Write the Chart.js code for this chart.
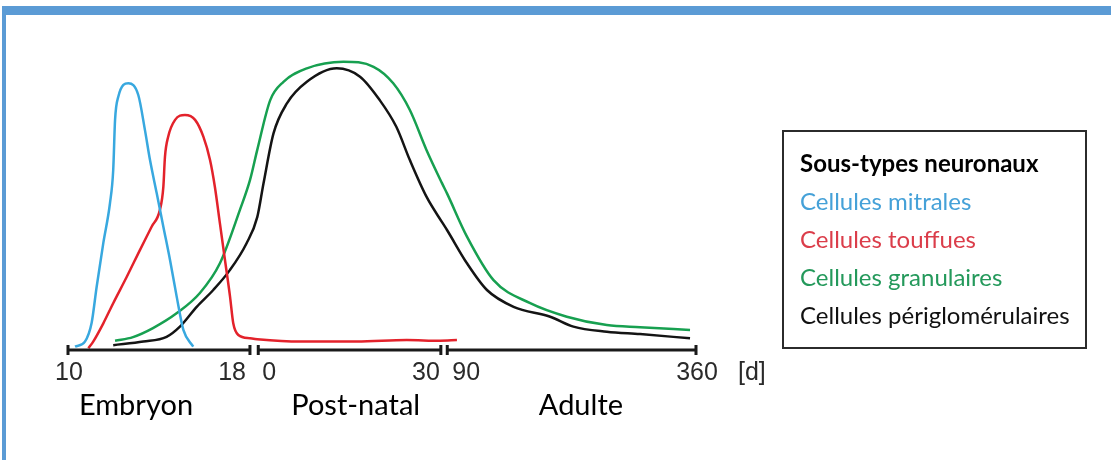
<!DOCTYPE html>
<html>
<head>
<meta charset="utf-8">
<script src="https://cdn.jsdelivr.net/npm/chart.js@4"></script>
<style>
  html, body { margin: 0; padding: 0; background: #fff; }
  #wrap { position: relative; width: 1111px; height: 460px; overflow: hidden; }
  #frame { position: absolute; left: 2px; top: 6px; right: 0; bottom: 0;
           border-top: 9px solid #5b9bd5; border-left: 4px solid #5b9bd5; }
  canvas { position: absolute; left: 0; top: 0; }
</style>
</head>
<body>
<div id="wrap">
  <div id="frame"></div>
  <canvas id="myChart" width="1111" height="460"></canvas>
</div>
<script>
// time in days relative to birth (embryonic day E = t + 19)
var tickDays   = [-9, -1, 0, 30, 90, 360];
var tickLabels = ['10', '18', '0', '30', '90', '360'];
var breakAt    = [0, 29.2, 30.2, 59.5, 60.2, 100];   // where each tick day sits on the broken axis
var periods     = ['Embryon', 'Post-natal', 'Adulte'];
var periodStart = [-9, 0, 90];
var periodEnd   = [-1, 30, 360];
var periodLabelAt = [-6, 16, 235];

var mitralDays = [-8.65, -8.22, -7.93, -7.71, -7.42, -7.13, -6.99, -6.91, -6.77, -6.33, -5.9, -5.61, -5.39, -5.1, -4.81, -4.52, -4.23, -3.94, -3.51];
var mitralVals = [1.1, 2.8, 9, 21.1, 35.7, 49, 60, 76.7, 84.4, 88.9, 85, 73.3, 63.3, 52.3, 41.1, 30, 17.8, 6.7, 1.1];

var tuftedDays = [-8.07, -7.86, -7.42, -6.99, -6.4, -5.83, -5.32, -4.96, -4.81, -4.74, -4.6, -4.3, -3.87, -3.43, -3.07, -2.78, -2.57, -2.35, -2.13, -1.91, -1.77, -1.55, -1.04, 0, 7, 16.2, 24.3, 29.7, 101.5];
var tuftedVals = [0.6, 2.8, 8.9, 15.6, 24.4, 33.3, 41.1, 46.7, 54.4, 64.4, 71.1, 76.7, 78.3, 76.7, 71.1, 63.3, 54.4, 42.2, 30, 17.8, 8.9, 5, 3.9, 3.6, 2.8, 2.8, 3.3, 3.1, 3.3];

var granuleDays = [-6.91, -6.13, -5.26, -4.22, -3.22, -2.35, -1.48, -1.04, 0, 2.11, 4.26, 8.06, 14, 18.9, 22.1, 24.8, 27.5, 30, 90.8, 112.3, 140.9, 180.4, 219.8, 262.9, 298.7, 352.5];
var granuleVals = [3.1, 4.3, 7.3, 12.3, 19, 28.9, 46.7, 56.7, 66.7, 83.3, 89.4, 93.9, 96.1, 94.4, 88.9, 80, 66.7, 55.7, 52.2, 37.8, 23.3, 15.6, 11.1, 8.3, 7.6, 6.7];

var perigDays = [-6.99, -5.68, -4.67, -4.09, -3.36, -2.64, -1.91, -1.19, 0, 1.02, 2.64, 4.82, 8.06, 12.92, 16.7, 19.9, 22.6, 24.8, 27.5, 30, 90.8, 112.3, 133.8, 162.5, 201.9, 226.9, 262.9, 298.7, 352.5];
var perigVals = [1.6, 2.8, 4.4, 7.8, 14.4, 20, 26.7, 35.6, 44.3, 55.6, 72.2, 82.2, 89.4, 93.9, 91.1, 83.3, 74.4, 63.3, 51.1, 42.7, 40, 28.9, 20, 14.4, 11.1, 7.8, 6.1, 5.3, 3.9];

// piecewise mapping of a day onto the broken axis
function axisPos(t) {
  for (var i = 1; i < tickDays.length; i++) {
    if (t <= tickDays[i] || i == tickDays.length - 1) {
      var f = (t - tickDays[i - 1]) / (tickDays[i] - tickDays[i - 1]);
      return breakAt[i - 1] + f * (breakAt[i] - breakAt[i - 1]);
    }
  }
}

function toPoints(days, vals) {
  return days.map(function(d, i) { return { x: axisPos(d), y: vals[i] }; });
}

var series = [
  { label: 'Cellules mitrales', days: mitralDays, vals: mitralVals, color: '#38a8df', text: '#45a1d8' },
  { label: 'Cellules touffues', days: tuftedDays, vals: tuftedVals, color: '#e3222b', text: '#db3d4a' },
  { label: 'Cellules granulaires', days: granuleDays, vals: granuleVals, color: '#17a050', text: '#24995b' },
  { label: 'Cellules périglomérulaires', days: perigDays, vals: perigVals, color: '#141414', text: '#111111' }
];

var brokenAxis = {
  id: 'brokenAxis',
  afterDraw: function(chart) {
    var ctx = chart.ctx;
    var xs = chart.scales.x;
    var base = chart.chartArea.bottom;
    function px(t) { return xs.getPixelForValue(axisPos(t)); }

    ctx.save();
    ctx.strokeStyle = '#1a1a1a';
    ctx.lineWidth = 3;
    for (var i = 0; i < periods.length; i++) {
      var a = px(periodStart[i]) + 1, b = px(periodEnd[i]) - 1;
      ctx.beginPath();
      ctx.moveTo(a, base); ctx.lineTo(b, base);
      ctx.moveTo(a, base - 5); ctx.lineTo(a, base + 5);
      ctx.moveTo(b, base - 5); ctx.lineTo(b, base + 5);
      ctx.stroke();
    }

    var align = ['center', 'right', 'left', 'right', 'left', 'center'];
    var nudge = [2, -5, 5, -2, 6, 0];
    ctx.fillStyle = '#2a2a2a';
    ctx.font = '25px "Liberation Sans", Arial, sans-serif';
    ctx.textBaseline = 'alphabetic';
    for (var k = 0; k < tickDays.length; k++) {
      ctx.textAlign = align[k];
      ctx.fillText(tickLabels[k], px(tickDays[k]) + nudge[k], base + 30);
    }
    ctx.textAlign = 'left';
    ctx.fillText('[d]', px(360) + 41, base + 30);

    ctx.fillStyle = '#000';
    ctx.font = '29px Lato, "Open Sans", sans-serif';
    ctx.textAlign = 'center';
    for (var p = 0; p < periods.length; p++) {
      ctx.fillText(periods[p], px(periodLabelAt[p]), base + 65);
    }

    // legend box
    ctx.strokeStyle = '#2b2b2b';
    ctx.lineWidth = 2;
    ctx.strokeRect(783, 131, 303, 217);
    ctx.textAlign = 'left';
    ctx.fillStyle = '#000';
    ctx.font = 'bold 24px Lato, "Open Sans", sans-serif';
    ctx.fillText('Sous-types neuronaux', 800, 172);
    ctx.font = '24px Lato, "Open Sans", sans-serif';
    chart.data.datasets.forEach(function(ds, j) {
      ctx.fillStyle = series[j].text;
      ctx.fillText(ds.label, 800, 210 + j * 38);
    });
    ctx.restore();
  }
};

var ctx = document.getElementById('myChart').getContext('2d');
var chart = new Chart(ctx, {
  type: 'line',
  data: {
    datasets: series.map(function(s) {
      return {
        label: s.label,
        data: toPoints(s.days, s.vals),
        borderColor: s.color,
        borderWidth: 2.5,
        pointRadius: 0,
        cubicInterpolationMode: 'monotone',
        fill: false
      };
    })
  },
  options: {
    responsive: false,
    animation: false,
    devicePixelRatio: 1,
    layout: { padding: { left: 67, right: 414, top: 50, bottom: 110 } },
    plugins: { legend: { display: false }, tooltip: { enabled: false } },
    scales: {
      x: { type: 'linear', min: 0, max: 100, display: false },
      y: { min: 0, max: 100, display: false }
    }
  },
  plugins: [brokenAxis]
});
</script>
</body>
</html>
